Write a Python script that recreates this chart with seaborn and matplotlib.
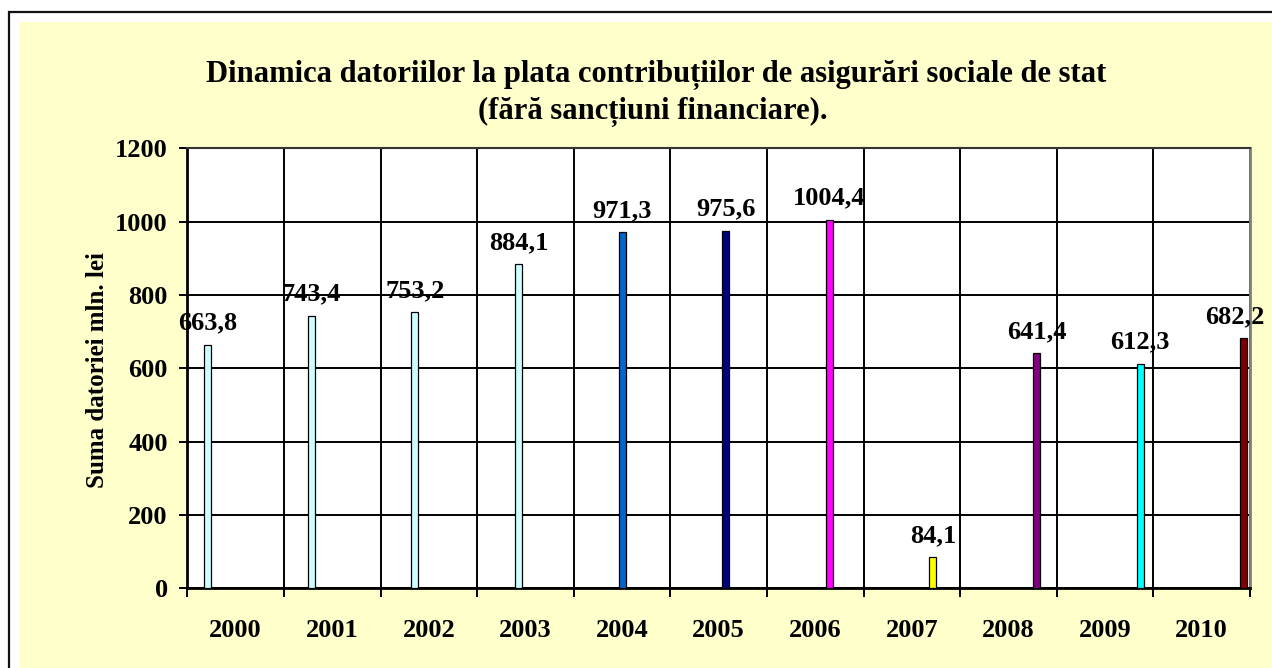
import matplotlib
matplotlib.use("Agg")
import matplotlib.pyplot as plt
import seaborn as sns
import pandas as pd
import numpy as np
from matplotlib.patches import Rectangle

# ---- data ----
years = ["2000", "2001", "2002", "2003", "2004", "2005", "2006", "2007", "2008", "2009", "2010"]
values = [663.8, 743.4, 753.2, 884.1, 971.3, 975.6, 1004.4, 84.1, 641.4, 612.3, 682.2]
value_labels = ["663,8", "743,4", "753,2", "884,1", "971,3", "975,6", "1004,4", "84,1", "641,4", "612,3", "682,2"]
bar_colors = ["#CCFFFF", "#CCFFFF", "#CCFFFF", "#CCFFFF", "#0066CC", "#000080",
              "#FF00FF", "#FFFF00", "#800080", "#00FFFF", "#800000"]
yticks = [0, 200, 400, 600, 800, 1000, 1200]
title_line1 = "Dinamica datoriilor la plata contribuțiilor de asigurări sociale de stat"
title_line2 = "(fără sancțiuni financiare)."
ylabel = "Suma datoriei mln. lei"

sns.set_theme(style="white")
plt.rcParams["font.family"] = ["Liberation Serif", "DejaVu Serif"]
plt.rcParams["font.weight"] = "bold"

W, H = 1272, 668
fig = plt.figure(figsize=(W / 100, H / 100), dpi=100)
fig.patch.set_facecolor("white")

# chart area background and border
fig.patches.append(Rectangle((20 / W, -0.2), 1.5, (1 - 22 / H) + 0.2, transform=fig.transFigure,
                             facecolor="#FFFFCC", edgecolor="none", zorder=-3))
fig.patches.append(Rectangle((8.5 / W, -0.2), 1.5, (1 - 12 / H) + 0.2, transform=fig.transFigure,
                             facecolor="none", edgecolor="#111111", linewidth=1.6, zorder=-2))

left, right, top, bottom = 187.3, 1250, 148.3, 588.3
ax = fig.add_axes([left / W, 1 - bottom / H, (right - left) / W, (bottom - top) / H])
ax.set_facecolor("white")

df = pd.DataFrame({"year": years, "value": values})
sns.barplot(data=df, x="year", y="value", hue="year", order=years, hue_order=years,
            palette=bar_colors, dodge=True, width=0.8, saturation=1,
            edgecolor="black", linewidth=0.9, legend=False, ax=ax, zorder=3)

shift = 0.0725
for p in ax.patches:
    p.set_x(p.get_x() + shift)

bars = sorted(ax.patches, key=lambda p: p.get_x())
texts = []
for p, lab in zip(bars, value_labels):
    t = ax.annotate(lab, (p.get_x() + p.get_width() / 2, p.get_height()),
                    xytext=(0, 11), textcoords="offset points", ha="center", va="baseline",
                    fontsize=19, fontweight="bold", color="black", zorder=5, annotation_clip=False)
    texts.append(t)

ax.set_xlim(-0.5, len(years) - 0.5)
ax.set_ylim(0, 1200)
ax.set_yticks(yticks)
ax.set_yticklabels([str(t) for t in yticks], fontsize=19, fontweight="bold")
ax.set_xticks(range(len(years)))
ax.set_xticklabels(years, fontsize=19, fontweight="bold")
ax.set_xticks(np.arange(-0.5, len(years), 1), minor=True)

ax.grid(True, which="major", axis="y", color="black", linewidth=1.4, zorder=0)
ax.grid(True, which="minor", axis="x", color="black", linewidth=1.4, zorder=0)
ax.grid(False, which="major", axis="x")
ax.set_axisbelow(True)

ax.tick_params(axis="x", which="major", length=0, pad=22, colors="black")
ax.tick_params(axis="x", which="minor", length=6.5, width=1.4, direction="out", color="black", bottom=True)
ax.tick_params(axis="y", which="major", length=6, width=1.4, direction="out", pad=8, colors="black", left=True)

for s in ["left", "bottom"]:
    ax.spines[s].set_color("black")
    ax.spines[s].set_linewidth(2)
ax.spines["top"].set_color("#333333")
ax.spines["top"].set_linewidth(1.5)
ax.spines["right"].set_color("#808080")
ax.spines["right"].set_linewidth(2)

ax.set_xlabel("")
ax.set_ylabel("")
fig.text(98 / W, 1 - 370 / H, ylabel, rotation=90, ha="center", va="center",
         fontsize=18, fontweight="bold", color="black")

fig.text(656 / W, 1 - 82 / H, title_line1, ha="center", va="baseline",
         fontsize=22, fontweight="bold", color="black")
fig.text(653 / W, 1 - 119 / H, title_line2, ha="center", va="baseline",
         fontsize=22, fontweight="bold", color="black")

# keep data labels inside the chart area (as the original does for the last one)
fig.canvas.draw()
renderer = fig.canvas.get_renderer()
limit = W - 8
for t in texts:
    bb = t.get_window_extent(renderer)
    if bb.x1 > limit:
        dx = (bb.x1 - limit) * 72 / fig.dpi
        x0, y0 = t.xyann
        t.xyann = (x0 - dx, y0)

fig.savefig("out.png", dpi=100, facecolor=fig.get_facecolor())
